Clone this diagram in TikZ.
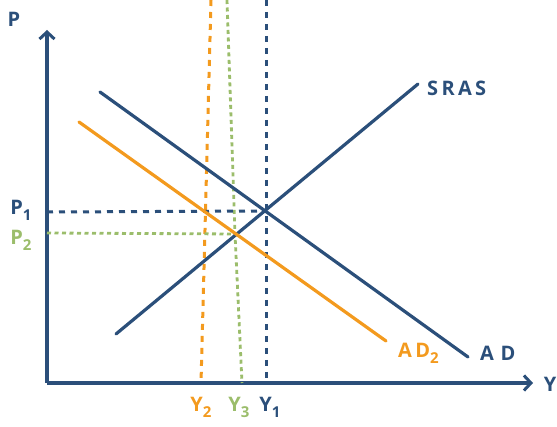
\documentclass[tikz,border=0pt]{standalone}
\usepackage{fontspec}
\setmainfont{Open Sans}
\usetikzlibrary{arrows.meta}
\definecolor{navy}{HTML}{2B4F7A}
\definecolor{orng}{HTML}{F39A1E}
\definecolor{grn}{HTML}{9BBD6B}
\newcommand{\sbs}[1]{{\fontsize{15}{15}\selectfont\raisebox{-6pt}{#1}}}
\begin{document}
\begin{tikzpicture}[x=1pt,y=-1pt,
  curve/.style={line width=3.2pt,line cap=round},
  axis/.style={line width=3.2pt,-{Straight Barb[length=7pt,width=15pt,line width=3pt]}},
  guide/.style={line width=3pt,dash pattern=on 6pt off 6pt},
  gguide/.style={line width=2.8pt,dash pattern=on 4pt off 3.5pt},
  lbl/.style={font=\fontsize{20}{20}\selectfont\bfseries,inner sep=0pt}]
\useasboundingbox (0,0) rectangle (557,427);
% axes
\coordinate (O) at (47,383);
\coordinate (Ptop) at (47,30);
\coordinate (Yend) at (533,383);
\draw[axis,navy] (O) -- (Ptop);
\draw[axis,navy] (O) -- (Yend);
\node[lbl,navy] (P) at (14,19) {P};
\node[lbl,navy] (Y) at (550,384) {Y};
% curves
\coordinate (ADa) at (100,92);
\coordinate (ADb) at (468,357);
\coordinate (SRa) at (116,334);
\coordinate (SRb) at (418,84);
\coordinate (AD2a) at (79,122);
\coordinate (AD2b) at (386,341);
\coordinate (E1) at (266,211);
\coordinate (E2) at (235,234);
% guides
\coordinate (P1a) at (47,212);
\coordinate (P2a) at (47,233);
\coordinate (Y1top) at (266,0);
\coordinate (Y1bot) at (266,383);
\coordinate (Y2top) at (211,0);
\coordinate (Y2bot) at (201,383);
\coordinate (Y3top) at (227,0);
\coordinate (Y3bot) at (242,383);
\draw[guide,orng] (Y2top) -- (Y2bot);
\draw[gguide,grn] (Y3top) -- (E2) -- (Y3bot);
\draw[gguide,grn] (P2a) -- (E2);
\draw[guide,navy] (Y1top) -- (Y1bot);
\draw[guide,navy] (P1a) -- (E1);
\draw[curve,navy] (ADa) -- (ADb);
\draw[curve,navy] (SRa) -- (SRb);
\draw[curve,orng] (AD2a) -- (AD2b);
% labels
\node[lbl,navy,anchor=west] (SRAS) at (427,88) {S\,R\,A\,S};
\node[lbl,navy,anchor=west] (ADl) at (480,353) {A\,\,D};
\node[lbl,orng,anchor=west] (AD2l) at (398,353) {A\,D\sbs{2}};
\node[lbl,navy] (P1l) at (21,210) {P\sbs{1}};
\node[lbl,grn] (P2l) at (21,240) {P\sbs{2}};
\node[lbl,orng] (Y2l) at (201,407) {Y\sbs{2}};
\node[lbl,grn] (Y3l) at (239,407) {Y\sbs{3}};
\node[lbl,navy] (Y1l) at (270,407) {Y\sbs{1}};
\end{tikzpicture}
\end{document}
